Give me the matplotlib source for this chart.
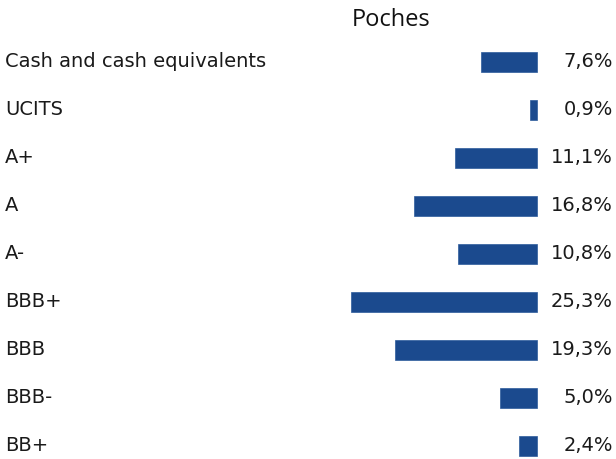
import matplotlib.pyplot as plt

categories = ["Cash and cash equivalents", "UCITS", "A+", "A", "A-", "BBB+", "BBB", "BBB-", "BB+"]
values = [7.6, 0.9, 11.1, 16.8, 10.8, 25.3, 19.3, 5.0, 2.4]
value_labels = ["7,6%", "0,9%", "11,1%", "16,8%", "10,8%", "25,3%", "19,3%", "5,0%", "2,4%"]

plt.rcParams['font.family'] = ['DejaVu Sans']

W, H = 616, 459
fig = plt.figure(figsize=(W / 100, H / 100), dpi=100)
ax = fig.add_axes([0, 0, 1, 1])

px_per_unit = 7.35
x0 = 537
row0, step = 62, 48
ax.set_xlim(x0 / px_per_unit, -(W - x0) / px_per_unit)
ax.set_ylim((H - row0) / step, -row0 / step)

pos = list(range(len(categories)))
ax.barh(pos, values, height=0.4, color="#1b4a8e", edgecolor="#2d5b9c", linewidth=0.5)

for i, (cat, lab) in enumerate(zip(categories, value_labels)):
    ax.text(5 / W, i, cat, transform=ax.get_yaxis_transform(), ha="left", va="center",
            fontsize=14, color="#1a1a1a")
    ax.text(613 / W, i, lab, transform=ax.get_yaxis_transform(), ha="right", va="center",
            fontsize=14, color="#1a1a1a")

fig.text(391 / W, 1 - 20 / H, "Poches", ha="center", va="center", fontsize=17,
         color="#111111", family=["Open Sans", "DejaVu Sans"])

ax.axis("off")
fig.savefig("out.png", dpi=100)
